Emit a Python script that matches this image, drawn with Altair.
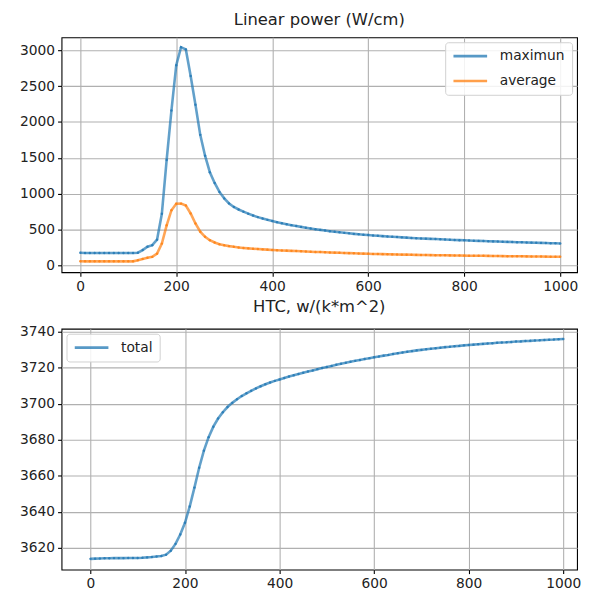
import altair as alt
import pandas as pd

x_vals = list(range(0, 1001, 10))

maximun = [
    178, 175, 175, 175, 175, 175, 175, 175, 175, 175,
    175, 175, 178, 215, 262, 283, 360, 720, 1470, 2160,
    2790, 3040, 3010, 2640, 2240, 1820, 1530, 1300, 1150, 1025,
    935, 865, 815, 780, 750, 722, 697, 674, 654, 636,
    620, 604, 589, 575, 562, 550, 538, 527, 516, 506,
    496, 487, 478, 470, 462, 455, 448, 441, 435, 429,
    424, 419, 414, 409, 404, 400, 396, 392, 388, 384,
    380, 377, 374, 371, 368, 365, 362, 359, 356, 353,
    351, 348, 346, 343, 341, 338, 336, 334, 331, 329,
    327, 325, 323, 321, 319, 317, 315, 313, 311, 309,
    306,
]

average = [
    60, 58, 58, 58, 58, 58, 58, 58, 58, 58,
    58, 58, 72, 92, 108, 120, 165, 305, 560, 770,
    860, 862, 835, 725, 585, 470, 400, 352, 320, 297,
    282, 270, 260, 252, 245, 239, 234, 229, 225, 221,
    217, 213, 210, 207, 204, 201, 198, 195, 192, 189,
    187, 184, 182, 179, 177, 175, 172, 170, 167, 165,
    163, 161, 160, 158, 157, 155, 154, 152, 151, 150,
    148, 147, 146, 145, 144, 143, 142, 141, 140, 139,
    138, 137, 136, 136, 135, 134, 133, 132, 131, 130,
    130, 129, 128, 127, 126, 125, 125, 124, 123, 122,
    121,
]

total = [
    3614.0, 3614.1, 3614.2, 3614.3, 3614.3, 3614.4, 3614.4, 3614.4, 3614.5, 3614.5,
    3614.5, 3614.6, 3614.8, 3615.0, 3615.3, 3615.6, 3616.3, 3618.5, 3622.3, 3627.5,
    3634.0, 3643.0, 3653.5, 3664.5, 3674.0, 3681.5, 3687.3, 3691.8, 3695.3, 3698.2,
    3700.5, 3702.5, 3704.3, 3705.8, 3707.2, 3708.5, 3709.7, 3710.8, 3711.8, 3712.7,
    3713.5, 3714.3, 3715.1, 3715.8, 3716.5, 3717.2, 3717.9, 3718.5, 3719.2, 3719.8,
    3720.4, 3721.0, 3721.6, 3722.2, 3722.7, 3723.3, 3723.8, 3724.3, 3724.8, 3725.3,
    3725.8, 3726.2, 3726.7, 3727.1, 3727.6, 3728.0, 3728.4, 3728.8, 3729.2, 3729.6,
    3729.9, 3730.2, 3730.5, 3730.8, 3731.1, 3731.4, 3731.6, 3731.9, 3732.1, 3732.4,
    3732.6, 3732.8, 3733.0, 3733.2, 3733.4, 3733.6, 3733.8, 3734.0, 3734.1, 3734.3,
    3734.5, 3734.6, 3734.8, 3734.9, 3735.1, 3735.2, 3735.4, 3735.5, 3735.6, 3735.8,
    3735.9,
]

x_ticks = [0, 200, 400, 600, 800, 1000]
top_ticks = [0, 500, 1000, 1500, 2000, 2500, 3000]
bot_ticks = [3620, 3640, 3660, 3680, 3700, 3720, 3740]

top_series = ["maximun", "average"]
bot_series = ["total"]
top_colors = ["#1f77b4", "#ff7f0e"]
bot_colors = ["#1f77b4"]

FONT = "DejaVu Sans"

df_top = pd.DataFrame({
    "x": x_vals * 2,
    "value": maximun + average,
    "series": ["maximun"] * len(x_vals) + ["average"] * len(x_vals),
})
df_bot = pd.DataFrame({
    "x": x_vals,
    "value": total,
    "series": ["total"] * len(x_vals),
})


def legend(orient):
    # flat line symbol: drawn 3x the layout size so rows stay compact
    return alt.Legend(
        title=None, orient=orient, offset=5,
        symbolType="M-1,0L5,0", symbolSize=128, symbolStrokeWidth=2.6,
        symbolOpacity=0.75,
        labelFont=FONT, labelFontSize=13.9, labelColor="#222222",
        labelOffset=34,
        fillColor="rgba(255,255,255,0.85)", strokeColor="#d0d0d0",
        cornerRadius=3, padding=7, rowPadding=11,
    )


def panel(df, series, colors, xdom, ydom, yticks, title, w, h, lorient):
    xenc = alt.X("x:Q", scale=alt.Scale(domain=xdom, nice=False, zero=False),
                 axis=alt.Axis(values=x_ticks, title=None, format="d"))
    yenc = alt.Y("value:Q", scale=alt.Scale(domain=ydom, nice=False, zero=False),
                 axis=alt.Axis(values=yticks, title=None, format="d",
                               minExtent=53, maxExtent=53))
    base = alt.Chart(df)
    line = base.mark_line(strokeWidth=2.6, opacity=0.7).encode(
        x=xenc, y=yenc,
        color=alt.Color("series:N", scale=alt.Scale(domain=series, range=colors),
                        legend=legend(lorient)),
    )
    pts = base.mark_circle(size=6, opacity=0.8).encode(
        x=xenc, y=yenc,
        fill=alt.Fill("series:N", scale=alt.Scale(domain=series, range=colors),
                      legend=None),
    )
    return alt.layer(line, pts).properties(
        width=w, height=h,
        title=alt.TitleParams(title, font=FONT, fontSize=16.5, fontWeight="normal",
                              color="#222222", anchor="middle", offset=9),
    ).resolve_scale(color="independent", fill="independent")


top = panel(df_top, top_series, top_colors, [-39, 1035], [-94, 3179], top_ticks,
            "Linear power (W/cm)", 520, 237, "top-right")
bottom = panel(df_bot, bot_series, bot_colors, [-61, 1029], [3608, 3741.6], bot_ticks,
               "HTC, w/(k*m^2)", 520, 243, "top-left")

chart = alt.vconcat(top, bottom, spacing=4).properties(
    padding=0,
).resolve_scale(color="independent", fill="independent").configure_view(
    stroke="black", strokeWidth=1.1,
).configure_axis(
    domain=False, grid=True, gridColor="#b0b0b0", gridWidth=1.1,
    ticks=True, tickColor="black", tickSize=4, tickWidth=1.1,
    labelFont=FONT, labelFontSize=13.9, labelColor="#222222", labelPadding=3,
)

chart.save("out.html", embed_options={"renderer": "svg", "actions": False})
